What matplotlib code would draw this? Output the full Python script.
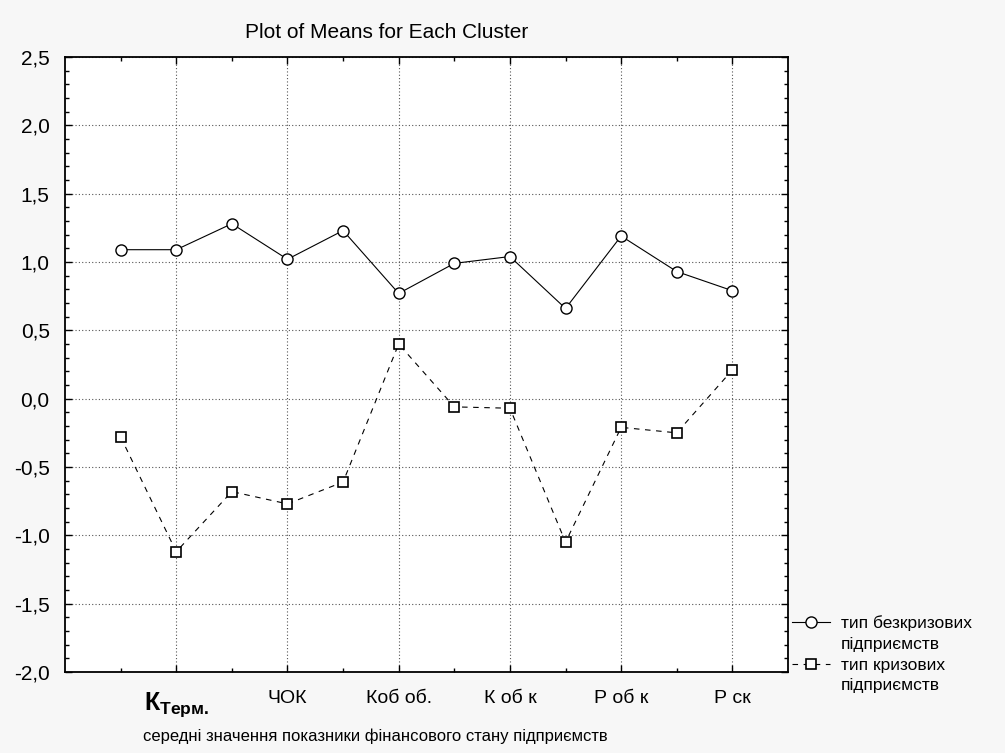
import matplotlib
matplotlib.use("Agg")
import matplotlib.pyplot as plt
from matplotlib.lines import Line2D
from matplotlib.ticker import MultipleLocator, FixedLocator, FuncFormatter

plt.rcParams['font.family'] = ['Liberation Sans', 'DejaVu Sans']
plt.rcParams['mathtext.fontset'] = 'custom'
plt.rcParams['mathtext.bf'] = 'Liberation Sans:bold'
plt.rcParams['mathtext.rm'] = 'Liberation Sans'

positions = list(range(1, 13))
no_crisis = [1.09, 1.09, 1.28, 1.02, 1.23, 0.77, 0.99, 1.04, 0.66, 1.19, 0.93, 0.79]
crisis = [-0.28, -1.12, -0.68, -0.77, -0.61, 0.40, -0.06, -0.07, -1.05, -0.21, -0.25, 0.21]
tick_pos = [2, 4, 6, 8, 10, 12]
tick_labels = [r'$\mathbf{К}_{\mathbf{Терм.}}$', 'ЧОК', 'Коб об.', 'К об к', 'Р об к', 'Р ск']
series_names = [('тип безкризових', 'підприємств'), ('тип кризових', 'підприємств')]

fig = plt.figure(figsize=(10.05, 7.53), dpi=100, facecolor='#f7f7f7')
ax = fig.add_axes([65/1005, 1-672/753, (788-65)/1005, (672-57)/753])
ax.set_facecolor('white')

l1, = ax.plot(positions, no_crisis, '-', color='black', lw=0.8, marker='o', ms=8,
              mfc='white', mec='black', mew=1.0, zorder=3)
l2, = ax.plot(positions, crisis, '--', color='black', lw=0.8, dashes=(5, 5), marker='s', ms=7.5,
              mfc='white', mec='black', mew=1.2, zorder=3)

ax.set_xlim(0, 13)
ax.set_ylim(-2.0, 2.5)
ax.yaxis.set_major_locator(MultipleLocator(0.5))
ax.yaxis.set_minor_locator(MultipleLocator(0.1))
ax.yaxis.set_major_formatter(FuncFormatter(lambda v, p: f'{v:.1f}'.replace('.', ',')))
ax.xaxis.set_major_locator(FixedLocator(tick_pos))
ax.xaxis.set_minor_locator(FixedLocator(positions))
ax.set_xticklabels(tick_labels)

ax.tick_params(which='both', direction='in', top=True, right=True, width=1.0)
ax.tick_params(which='major', length=5)
ax.tick_params(which='minor', length=3)
ax.tick_params(axis='x', which='major', pad=13, labelsize=14)
ax.tick_params(axis='y', which='major', pad=11, labelsize=15)
ax.get_xticklabels()[0].set_fontsize(18)

ax.grid(True, which='major', linestyle=(0, (1, 2)), color='#555555', lw=0.8)
for s in ax.spines.values():
    s.set_linewidth(1.3)

ax.set_title('Plot of Means for Each Cluster', fontsize=15, x=(387-65)/723, y=1.0, pad=14)
ax.set_xlabel('середні значення показники фінансового стану підприємств', fontsize=12)
ax.xaxis.set_label_coords((375-65)/723, -(736-672)/615)
ax.xaxis.label.set_verticalalignment('center')

blank = Line2D([], [], color='none')
handles = [l1, blank, l2, blank]
labels = [series_names[0][0], series_names[0][1], series_names[1][0], series_names[1][1]]
leg = fig.legend(handles, labels, loc='upper left', bbox_to_anchor=(792/1005, 1-615/753),
                 frameon=False, fontsize=12.5, handlelength=2.2, handletextpad=0.6,
                 labelspacing=0.33, borderaxespad=0, borderpad=0)

fig.savefig('out.png', dpi=100, facecolor=fig.get_facecolor())
